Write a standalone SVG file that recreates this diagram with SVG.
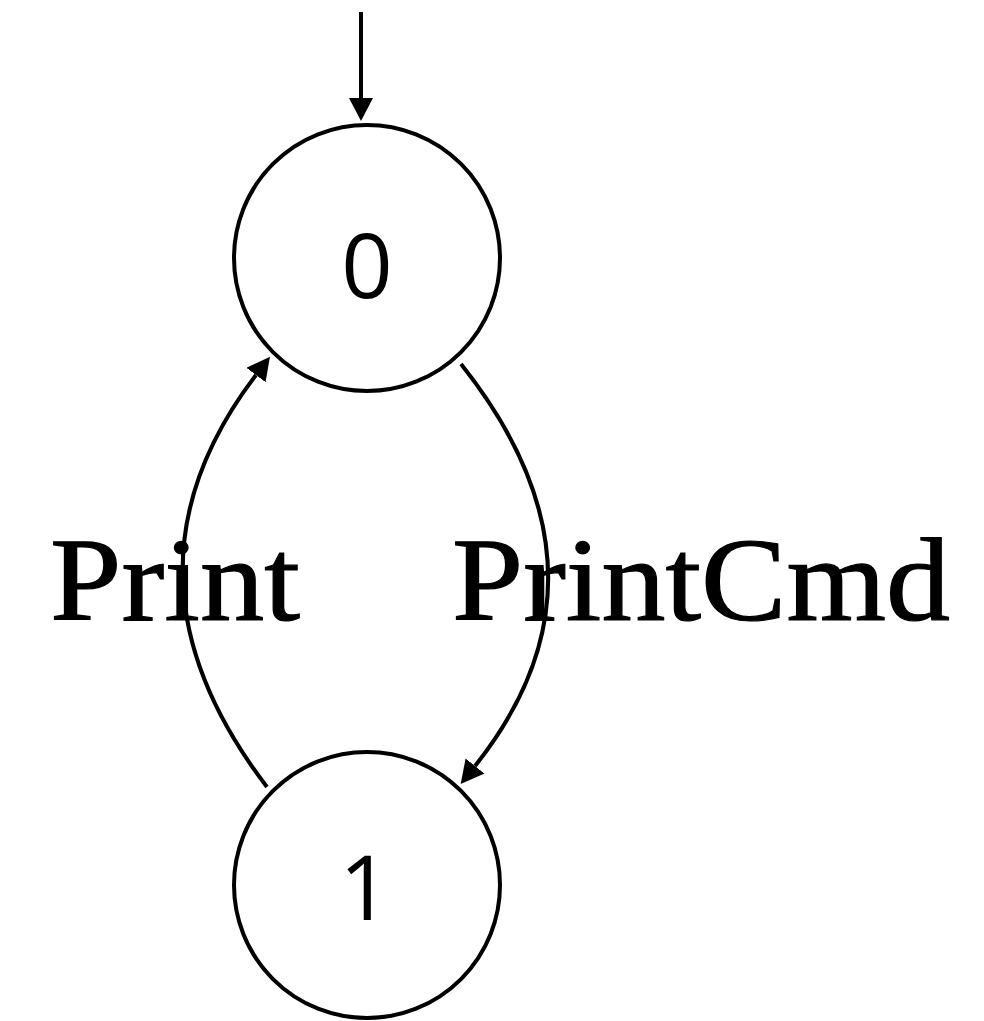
<svg xmlns="http://www.w3.org/2000/svg" width="984" height="1021" viewBox="0 0 984 1021">
  <style>
    .state { fill: #ffffff; stroke: #000000; stroke-width: 4; }
    .state-label { font-family: "Open Sans", "Noto Sans", sans-serif; font-size: 90px; fill: #000000; text-anchor: middle; }
    .edge { fill: none; stroke: #000000; stroke-width: 4; }
    .edge-label { font-family: "Liberation Serif", "DejaVu Serif", serif; font-size: 118px; fill: #000000; stroke: #000000; stroke-width: 1.2; }
  </style>
  <defs>
    <marker id="arrow" markerUnits="userSpaceOnUse" markerWidth="26" markerHeight="26" refX="0" refY="12" orient="auto">
      <path d="M0,0 L23,12 L0,24 Z" fill="#000000"/>
    </marker>
  </defs>

  <!-- transitions -->
  <g id="edges">
    <path class="edge" d="M361,12 L361,98" marker-end="url(#arrow)"/>
    <path class="edge" d="M461,364 Q628,574 475,766" marker-end="url(#arrow)"/>
    <path class="edge" d="M267,787 Q104,574 256,375" marker-end="url(#arrow)"/>
  </g>

  <!-- state 0 -->
  <g id="node-0">
    <circle class="state" cx="367" cy="258" r="133"/>
    <text class="state-label" x="367" y="298">0</text>
  </g>

  <!-- state 1 -->
  <g id="node-1">
    <circle class="state" cx="367" cy="885" r="133"/>
    <text class="state-label" x="365" y="920">1</text>
  </g>

  <!-- transition labels -->
  <g id="labels">
    <text class="edge-label" x="50" y="620" textLength="250" lengthAdjust="spacingAndGlyphs">Print</text>
    <text class="edge-label" x="452" y="620" textLength="498" lengthAdjust="spacingAndGlyphs">PrintCmd</text>
  </g>
</svg>
